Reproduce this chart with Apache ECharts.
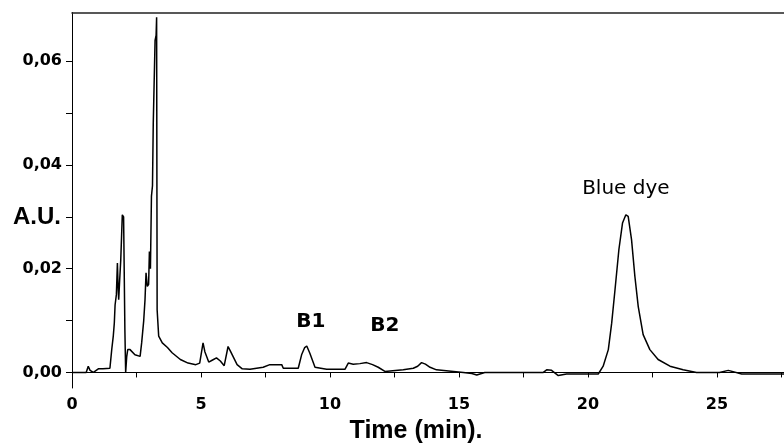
<!DOCTYPE html>
<html>
<head>
<meta charset="utf-8">
<script src="https://cdn.jsdelivr.net/npm/echarts@6/dist/echarts.min.js"></script>
<style>
  html, body { margin: 0; padding: 0; background: #fff; }
  #chart { width: 784px; height: 445px; }
</style>
</head>
<body>
<div id="chart"></div>
<script>
// retention time (min) and absorbance (A.U.)
const times = [
  0.00, 0.55, 0.63, 0.70, 0.83, 1.02, 1.20, 1.47, 1.54, 1.60, 1.64, 1.67, 1.72, 1.76, 1.79, 1.81,
  1.85, 1.89, 1.92, 1.95, 2.00, 2.03, 2.05, 2.08, 2.12, 2.16, 2.25, 2.44, 2.64, 2.70, 2.78, 2.83,
  2.87, 2.92, 2.97, 3.00, 3.04, 3.08, 3.12, 3.15, 3.20, 3.22, 3.26, 3.28, 3.30, 3.33, 3.36, 3.50,
  3.70, 3.88, 4.20, 4.50, 4.80, 4.95, 5.08, 5.15, 5.30, 5.45, 5.60, 5.75, 5.90, 6.05, 6.15, 6.40,
  6.60, 6.90, 7.41, 7.67, 8.13, 8.19, 8.77, 8.90, 9.02, 9.10, 9.16, 9.22, 9.42, 9.87, 10.58, 10.71,
  10.90, 11.16, 11.42, 11.65, 11.87, 12.13, 12.84, 13.23, 13.40, 13.55, 13.70, 13.88, 14.13, 15.17, 15.50, 15.69,
  16.00, 18.27, 18.40, 18.59, 18.85, 19.17, 20.40, 20.59, 20.79, 20.92, 21.05, 21.20, 21.34, 21.47, 21.56, 21.69,
  21.82, 21.95, 22.14, 22.40, 22.72, 23.18, 23.69, 24.21, 25.10, 25.44, 25.96, 27.60
];
const absorbance = [
  0.0000, 0.0000, 0.0012, 0.0004, 0.0000, 0.0007, 0.0007, 0.0008, 0.0044, 0.0070, 0.0095, 0.0130, 0.0150, 0.0211, 0.0160, 0.0140,
  0.0180, 0.0217, 0.0260, 0.0304, 0.0300, 0.0300, 0.0082, 0.0000, 0.0030, 0.0044, 0.0044, 0.0034, 0.0031, 0.0057, 0.0100, 0.0140,
  0.0192, 0.0166, 0.0170, 0.0233, 0.0200, 0.0340, 0.0360, 0.0480, 0.0480, 0.0640, 0.0650, 0.0685, 0.0121, 0.0120, 0.0070, 0.0057,
  0.0048, 0.0038, 0.0025, 0.0018, 0.0015, 0.0018, 0.0057, 0.0040, 0.0020, 0.0024, 0.0028, 0.0022, 0.0013, 0.0050, 0.0040, 0.0015,
  0.0007, 0.0006, 0.0010, 0.0015, 0.0015, 0.0008, 0.0008, 0.0034, 0.0048, 0.0051, 0.0048, 0.0037, 0.0010, 0.0006, 0.0006, 0.0018,
  0.0016, 0.0017, 0.0019, 0.0015, 0.0010, 0.0002, 0.0005, 0.0008, 0.0012, 0.0019, 0.0016, 0.0010, 0.0005, 0.0000, -0.0002, -0.0005,
  0.0000, 0.0000, 0.0005, 0.0004, -0.0006, -0.0003, -0.0003, 0.0012, 0.0044, 0.0095, 0.0160, 0.0237, 0.0288, 0.0304, 0.0301, 0.0256,
  0.0185, 0.0127, 0.0073, 0.0044, 0.0025, 0.0012, 0.0005, 0.0000, 0.0000, 0.0004, -0.0003, -0.0003
];

const xTicks = [0, 2.5, 5, 7.5, 10, 12.5, 15, 17.5, 20, 22.5, 25, 27.5];
const xLabels = [0, 5, 10, 15, 20, 25];
const yTicks = [0, 0.01, 0.02, 0.03, 0.04, 0.05, 0.06];
const yLabels = [0, 0.02, 0.04, 0.06];

// peak annotations: [name, time, A.U.]
const peakNames = ['B1', 'B2', 'Blue dye'];
const peakTimes = [9.26, 12.13, 21.47];
const peakLevels = [0.0098, 0.0089, 0.0354];

const myChart = echarts.init(document.getElementById('chart'));

const numFont = { fontFamily: 'DejaVu Sans', fontWeight: 'bold', fontSize: 16, color: '#000' };

myChart.setOption({
  animation: false,
  backgroundColor: '#fff',
  grid: { left: 72, right: 0, top: 12.5, bottom: 57 },
  xAxis: [{
    type: 'value', min: 0, max: 27.6,
    axisLine: { lineStyle: { color: '#000', width: 1 } },
    axisTick: { show: true, inside: false, length: 5, lineStyle: { color: '#000' }, customValues: xTicks },
    axisLabel: { ...numFont, margin: 9, customValues: xLabels },
    splitLine: { show: false }
  }, {
    type: 'value', position: 'top', min: 0, max: 27.6,
    axisLine: { lineStyle: { color: '#222', width: 1.5 } },
    axisTick: { show: false }, axisLabel: { show: false }, splitLine: { show: false }
  }],
  yAxis: {
    type: 'value', min: -0.003, max: 0.0694,
    axisLine: { show: true, lineStyle: { color: '#000', width: 1 } },
    axisTick: { show: true, inside: false, length: 6, lineStyle: { color: '#000' }, customValues: yTicks },
    axisLabel: { ...numFont, margin: 10, customValues: yLabels,
      formatter: v => v.toFixed(2).replace('.', ',') },
    splitLine: { show: false }
  },
  graphic: [
    { type: 'text', style: { text: 'A.U.', x: 37, y: 217, textAlign: 'center', textVerticalAlign: 'middle',
        font: 'bold 24px "Liberation Sans"', fill: '#000' } },
    { type: 'text', style: { text: 'Time (min).', x: 416, y: 431, textAlign: 'center', textVerticalAlign: 'middle',
        font: 'bold 25px "Liberation Sans"', fill: '#000' } }
  ],
  series: [{
    type: 'line',
    data: times.map((t, i) => [t, absorbance[i]]),
    showSymbol: false,
    lineStyle: { color: '#000', width: 1.5 },
    markPoint: {
      symbol: 'circle', symbolSize: 0,
      label: { show: true, position: 'inside', formatter: '{b}', color: '#000', fontFamily: 'DejaVu Sans', fontSize: 20 },
      data: peakNames.map((n, i) => ({
        name: n, coord: [peakTimes[i], peakLevels[i]],
        label: { fontWeight: n === 'Blue dye' ? 'normal' : 'bold' }
      }))
    }
  }]
});
</script>
</body>
</html>
